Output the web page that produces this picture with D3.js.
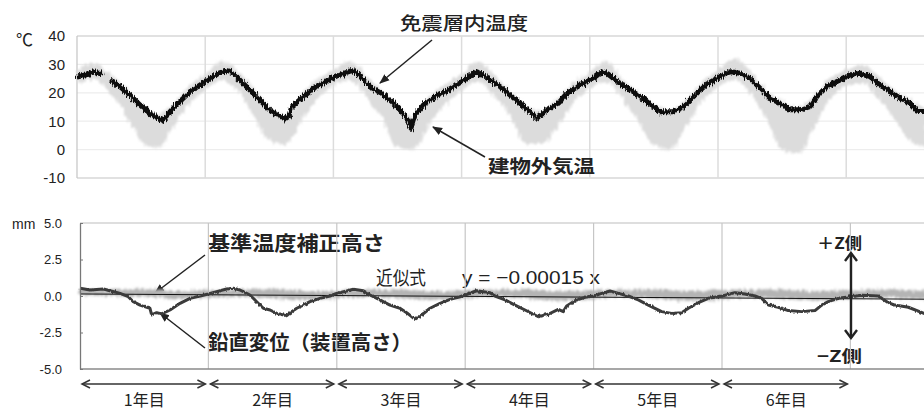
<!DOCTYPE html>
<html>
<head>
<meta charset="utf-8">
<script src="https://cdn.jsdelivr.net/npm/d3@7"></script>
<style>
  body { margin: 0; background: #fff; }
  svg { display: block; }
  .jp { font-family: "Noto Sans CJK JP", "Noto Sans", sans-serif; }
  .num { font-family: "Liberation Sans", Arial, sans-serif; }
</style>
</head>
<body>
<svg id="chart" width="924" height="412"></svg>
<script>
// ---- data (x values are elapsed years) ----
const tempTicks = [40, 30, 20, 10, 0, -10];
const dispTicks = [5.0, 2.5, 0.0, -2.5, -5.0];
const yearLabels = ["1年目", "2年目", "3年目", "4年目", "5年目", "6年目"];

// 免震層内温度 (℃); null marks the missing stretch of records
const innerT = [0.00,0.04,0.076,0.127,0.17,0.205,0.23,0.257,0.335,0.413,0.491,0.569,0.621,0.661,0.69,0.725,0.803,0.881,0.959,
  1.037,1.115,1.180,1.219,1.297,1.401,1.505,1.583,1.622,1.650,1.675,1.753,1.831,1.909,1.987,
  2.065,2.143,2.182,2.246,2.299,2.377,2.455,2.533,2.584,2.605,2.637,2.714,2.793,2.896,
  3.001,3.079,3.118,3.183,3.286,3.378,3.456,3.534,3.586,3.664,3.755,3.820,3.924,
  4.027,4.093,4.132,4.236,4.339,4.444,4.548,4.651,4.729,4.807,4.912,
  5.016,5.094,5.172,5.250,5.328,5.406,5.484,5.562,5.640,5.718,5.770,5.848,5.952,
  6.030,6.108,6.186,6.264,6.342,6.420,6.498,6.550,6.607];
const innerTemp = [25.5,26.0,26.3,27.4,26.8,27.1,null,24.5,22.2,19.2,15.7,12.8,11.4,10.4,11.0,13.3,16.9,20.4,22.7,
  25.1,27.1,27.8,26.9,23.3,18.6,13.9,11.8,10.8,11.6,15.1,18.1,21.0,23.3,25.1,
  26.6,27.8,27.1,23.9,21.6,19.8,16.9,13.3,10.4,7.5,12.2,16.3,18.6,21.0,
  23.9,26.3,27.4,25.7,22.7,19.2,16.3,13.3,11.0,13.9,16.3,19.8,22.7,
  25.1,27.4,26.9,23.3,20.4,16.9,13.3,13.3,15.1,18.6,23.0,
  25.7,27.4,26.9,25.1,21.6,18.1,16.3,14.0,14.0,15.1,18.6,22.2,24.5,
  26.3,26.9,25.7,22.7,20.4,18.1,16.3,13.9,13.3];

// 建物外気温 (℃): daily high / low envelope
const outerT = [0,0.125,0.25,0.375,0.5,0.625,0.75,0.875,
  1,1.125,1.25,1.375,1.5,1.625,1.75,1.875,
  2,2.125,2.25,2.375,2.5,2.625,2.75,2.875,
  3,3.125,3.25,3.375,3.5,3.625,3.75,3.875,
  4,4.125,4.25,4.375,4.5,4.625,4.75,4.875,
  5,5.125,5.25,5.375,5.5,5.625,5.75,5.875,
  6,6.125,6.25,6.375,6.5,6.625];
const outerHigh = [28,30.5,27,22,16,12.5,16,22.5,
  26.5,31,28,21.5,15,12,19.5,24.5,
  28,31,26,21,15.5,11.5,19,23,
  26.5,31,26.5,20.5,15,13.5,18,23.5,
  27,31,25.5,20,16,14,17.5,23.5,
  28,32,28,21,17,15,19,25,
  28,30,26,21,17.5,14.5];
const outerLow = [23,24.5,20.5,13,3,0.5,8,16,
  21,24.5,21,12,3.5,2,10,18,
  22.5,24.5,19,11,1,0,9,16,
  21,24,19,12,2,2,8,17,
  21.5,24,18.5,10,1.5,0,8,17,
  22,24.5,20,11,0,-1.5,8,18,
  22.5,23.5,18,11,3,1];

// 基準温度補正高さ (mm): envelope of the corrected reference height
const refT = [0,0.25,0.5,0.75,1,1.25,1.5,1.75,2,2.25,2.5,2.75,3,3.25,3.5,3.75,4,4.25,4.5,4.75,5,5.25,5.5,5.75,6,6.25,6.5,6.7];
const refHigh = [0.5,0.45,0.5,0.35,0.4,0.45,0.5,0.35,0.35,0.45,0.45,0.35,0.4,0.45,0.45,0.35,0.4,0.45,0.45,0.35,0.4,0.45,0.45,0.35,0.4,0.45,0.4,0.4];
const refLow = [0.05,0.0,-0.05,-0.2,-0.1,-0.05,-0.15,-0.25,-0.15,-0.05,-0.15,-0.25,-0.15,-0.05,-0.2,-0.3,-0.2,-0.05,-0.2,-0.3,-0.2,-0.1,-0.2,-0.3,-0.2,-0.1,-0.2,-0.2];

// 鉛直変位(装置高さ) (mm)
const dispT = [0.000,0.078,0.182,0.234,0.312,0.376,0.415,0.467,0.545,0.558,0.597,0.636,0.701,0.779,0.857,0.935,
  1.000,1.064,1.142,1.194,1.246,1.324,1.376,1.428,1.480,1.532,1.610,1.649,1.688,1.739,1.791,1.869,1.947,
  1.999,2.077,2.129,2.207,2.259,2.336,2.414,2.492,2.544,2.609,2.661,2.726,2.804,2.882,2.960,
  2.998,3.089,3.193,3.232,3.310,3.388,3.466,3.570,3.647,3.725,3.764,3.790,3.855,3.933,
  4.000,4.063,4.128,4.193,4.270,4.348,4.426,4.530,4.608,4.686,4.738,4.816,4.893,
  5.002,5.101,5.179,5.257,5.309,5.361,5.438,5.516,5.621,5.724,5.776,5.828,5.906,
  5.999,6.088,6.217,6.295,6.347,6.451,6.573,6.62];
const disp = [0.53,0.41,0.48,0.36,0.18,-0.05,-0.39,-0.62,-0.84,-1.30,-1.14,-1.23,-0.96,-0.50,-0.16,0.00,
  0.14,0.30,0.48,0.53,0.41,0.07,-0.39,-0.84,-0.96,-1.19,-1.35,-1.07,-0.84,-0.62,-0.39,-0.16,0.00,
  0.18,0.34,0.46,0.36,0.07,-0.27,-0.62,-0.84,-1.14,-1.60,-1.30,-0.84,-0.50,-0.23,-0.05,
  0.07,0.36,0.23,0.00,-0.27,-0.62,-0.96,-1.42,-1.25,-0.91,-1.07,-0.68,-0.32,-0.09,
  0.00,0.18,0.34,0.18,0.00,-0.27,-0.62,-1.07,-1.19,-1.14,-0.84,-0.46,-0.16,
  0.00,0.23,0.14,0.00,-0.16,-0.62,-0.77,-1.00,-1.07,-1.00,-0.62,-0.39,-0.16,
  -0.05,0.05,0.00,-0.46,-0.62,-0.77,-1.19,-1.40];

// 近似式 y = -0.00015 x (x in days)
const trendIntercept = 0.14;
const trendSlope = -0.00015;

// ---- drawing ----
const svg = d3.select("#chart");
const defs = svg.append("defs");

// rough texture for the daily-sampled records
const rough = defs.append("filter").attr("id", "rough")
  .attr("x", "-2%").attr("y", "-30%").attr("width", "104%").attr("height", "160%");
rough.append("feTurbulence").attr("type", "fractalNoise").attr("baseFrequency", "0.9 0.2")
  .attr("numOctaves", 1).attr("seed", 4).attr("result", "n");
rough.append("feDisplacementMap").attr("in", "SourceGraphic").attr("in2", "n")
  .attr("scale", 7).attr("xChannelSelector", "R").attr("yChannelSelector", "G");

const roughSoft = defs.append("filter").attr("id", "roughSoft")
  .attr("x", "-2%").attr("y", "-30%").attr("width", "104%").attr("height", "160%");
roughSoft.append("feTurbulence").attr("type", "fractalNoise").attr("baseFrequency", "0.6 0.1")
  .attr("numOctaves", 1).attr("seed", 9).attr("result", "n");
roughSoft.append("feDisplacementMap").attr("in", "SourceGraphic").attr("in2", "n")
  .attr("scale", 3).attr("xChannelSelector", "R").attr("yChannelSelector", "G");

const haze = defs.append("filter").attr("id", "haze")
  .attr("x", "-2%").attr("y", "-30%").attr("width", "104%").attr("height", "160%");
haze.append("feTurbulence").attr("type", "fractalNoise").attr("baseFrequency", "0.7 0.08")
  .attr("numOctaves", 2).attr("seed", 7).attr("result", "n");
haze.append("feDisplacementMap").attr("in", "SourceGraphic").attr("in2", "n")
  .attr("scale", 9).attr("xChannelSelector", "R").attr("yChannelSelector", "G").attr("result", "d");
haze.append("feGaussianBlur").attr("in", "d").attr("stdDeviation", 1);

const years = d3.range(1, 7);

// ===== upper panel: temperatures =====
const xT = d3.scaleLinear().domain([0, 6.7]).range([77, 77 + 128.2 * 6.7]);
const yT = d3.scaleLinear().domain([-10, 40]).range([178, 36]);
const topW = 930;

const gTop = svg.append("g");
gTop.selectAll("line.hgrid").data(tempTicks).join("line")
  .attr("x1", 77).attr("x2", topW).attr("y1", d => yT(d)).attr("y2", d => yT(d))
  .attr("stroke", d => (d === 40 || d === -10) ? "#c4c4c4" : "#ededed").attr("stroke-width", 1.2);
gTop.selectAll("line.vgrid").data(years).join("line")
  .attr("x1", d => xT(d)).attr("x2", d => xT(d)).attr("y1", 36).attr("y2", 178)
  .attr("stroke", "#dcdcdc").attr("stroke-width", 1.5);
gTop.append("line").attr("x1", 77).attr("x2", 77).attr("y1", 36).attr("y2", 178)
  .attr("stroke", "#c4c4c4").attr("stroke-width", 1.2);

const outerIdx = d3.range(outerT.length);
gTop.append("path")
  .attr("d", d3.area().x(i => xT(outerT[i])).y0(i => yT(outerLow[i])).y1(i => yT(outerHigh[i]))
    .curve(d3.curveMonotoneX)(outerIdx))
  .attr("fill", "#dcdcdc").attr("filter", "url(#haze)");

const innerIdx = d3.range(innerT.length);
gTop.append("path")
  .attr("d", d3.line().defined(i => innerTemp[i] !== null)
    .x(i => xT(innerT[i])).y(i => yT(innerTemp[i])).curve(d3.curveLinear)(innerIdx))
  .attr("fill", "none").attr("stroke", "#111").attr("stroke-width", 5)
  .attr("stroke-linejoin", "round").attr("filter", "url(#rough)");

const axT = gTop.append("g").attr("transform", "translate(77,0)")
  .call(d3.axisLeft(yT).tickValues(tempTicks).tickSize(0).tickPadding(12).tickFormat(d => String(d)));
axT.select(".domain").remove();
axT.selectAll("text").attr("class", "num").style("font-size", "15px").attr("fill", "#222");

gTop.append("text").attr("class", "jp").attr("x", 16).attr("y", 46)
  .style("font-size", "17px").attr("fill", "#222").text("℃");

// annotations
const ann = svg.append("g");
defs.append("marker").attr("id", "head").attr("viewBox", "0 0 10 10").attr("refX", 9).attr("refY", 5)
  .attr("markerWidth", 10).attr("markerHeight", 10).attr("markerUnits", "userSpaceOnUse").attr("orient", "auto")
  .append("path").attr("d", "M0,1 L10,5 L0,9 Z").attr("fill", "#222");

ann.append("text").attr("class", "jp").attr("x", 400).attr("y", 30)
  .attr("textLength", 128).attr("lengthAdjust", "spacingAndGlyphs")
  .style("font-size", "18px").style("font-weight", 500).attr("fill", "#222").text("免震層内温度");
ann.append("line").attr("x1", 432).attr("y1", 40).attr("x2", 380).attr("y2", 83)
  .attr("stroke", "#222").attr("stroke-width", 1.5).attr("marker-end", "url(#head)");
ann.append("text").attr("class", "jp").attr("x", 488).attr("y", 173)
  .attr("textLength", 107).attr("lengthAdjust", "spacingAndGlyphs")
  .style("font-size", "18px").style("font-weight", 700).attr("fill", "#222").text("建物外気温");
ann.append("line").attr("x1", 485).attr("y1", 157).attr("x2", 433).attr("y2", 127)
  .attr("stroke", "#222").attr("stroke-width", 1.5).attr("marker-end", "url(#head)");

// ===== lower panel: displacement =====
const xB = d3.scaleLinear().domain([0, 6.7]).range([80, 80 + 128.4 * 6.7]);
const yB = d3.scaleLinear().domain([-5, 5]).range([369, 223]);

const gBot = svg.append("g");
gBot.append("line").attr("x1", 80).attr("x2", topW).attr("y1", yB(5)).attr("y2", yB(5))
  .attr("stroke", "#bdbdbd").attr("stroke-width", 1.2);
gBot.selectAll("line.vgrid").data(years).join("line")
  .attr("x1", d => xB(d)).attr("x2", d => xB(d)).attr("y1", yB(5)).attr("y2", yB(-5))
  .attr("stroke", "#c6c6c6").attr("stroke-width", 1.2);
gBot.append("line").attr("x1", 80).attr("x2", topW).attr("y1", yB(-5)).attr("y2", yB(-5))
  .attr("stroke", "#8a8a8a").attr("stroke-width", 1.3);

const refIdx = d3.range(refT.length);
gBot.append("path")
  .attr("d", d3.area().x(i => xB(refT[i])).y0(i => yB(refLow[i])).y1(i => yB(refHigh[i]))
    .curve(d3.curveMonotoneX)(refIdx))
  .attr("fill", "#b4b4b4").attr("filter", "url(#haze)");

gBot.append("line")
  .attr("x1", xB(0)).attr("x2", xB(6.7))
  .attr("y1", yB(trendIntercept)).attr("y2", yB(trendIntercept + trendSlope * 6.7 * 365))
  .attr("stroke", "#111").attr("stroke-width", 1);

const dispIdx = d3.range(dispT.length);
gBot.append("path")
  .attr("d", d3.line().x(i => xB(dispT[i])).y(i => yB(disp[i])).curve(d3.curveLinear)(dispIdx))
  .attr("fill", "none").attr("stroke", "#3a3a3a").attr("stroke-width", 3)
  .attr("stroke-linejoin", "round").attr("filter", "url(#roughSoft)");

const axB = gBot.append("g").attr("transform", "translate(80,0)")
  .call(d3.axisLeft(yB).tickValues(dispTicks).tickSizeInner(-3).tickSizeOuter(0).tickPadding(18)
    .tickFormat(d => d.toFixed(1)));
axB.select(".domain").attr("stroke", "#777").attr("stroke-width", 1.3);
axB.selectAll(".tick line").attr("stroke", "#777");
axB.selectAll("text").attr("class", "num").style("font-size", "13px").attr("fill", "#222");

gBot.append("text").attr("class", "num").attr("x", 12).attr("y", 229)
  .style("font-size", "14px").attr("fill", "#222").text("mm");

// year spans
const spans = svg.append("g").attr("stroke", "#333").attr("stroke-width", 1.5).attr("fill", "none");
const yArrow = 384;
years.forEach(n => {
  const a = xB(n - 1) + 2, b = xB(n) - 3;
  spans.append("line").attr("x1", a).attr("x2", b).attr("y1", yArrow).attr("y2", yArrow);
  spans.append("path").attr("d", `M${a + 8},${yArrow - 4}L${a},${yArrow}L${a + 8},${yArrow + 4}`);
  spans.append("path").attr("d", `M${b - 8},${yArrow - 4}L${b},${yArrow}L${b - 8},${yArrow + 4}`);
});
svg.append("g").selectAll("text").data(yearLabels).join("text")
  .attr("class", "jp").attr("x", (d, i) => xB(i + 0.5)).attr("y", 406)
  .attr("text-anchor", "middle").style("font-size", "16px").attr("fill", "#222").text(d => d);

// labels and arrows in the lower panel
ann.append("text").attr("class", "jp").attr("x", 208).attr("y", 251)
  .attr("textLength", 177).attr("lengthAdjust", "spacingAndGlyphs")
  .style("font-size", "20px").style("font-weight", 700).attr("fill", "#222").text("基準温度補正高さ");
ann.append("line").attr("x1", 205).attr("y1", 255).attr("x2", 155).attr("y2", 293)
  .attr("stroke", "#222").attr("stroke-width", 1.5).attr("marker-end", "url(#head)");
ann.append("text").attr("class", "jp").attr("x", 208).attr("y", 350)
  .attr("textLength", 204).attr("lengthAdjust", "spacingAndGlyphs")
  .style("font-size", "20px").style("font-weight", 700).attr("fill", "#222").text("鉛直変位（装置高さ）");
ann.append("line").attr("x1", 205).attr("y1", 348).attr("x2", 160).attr("y2", 313)
  .attr("stroke", "#222").attr("stroke-width", 1.5).attr("marker-end", "url(#head)");

ann.append("text").attr("class", "jp").attr("x", 376).attr("y", 285)
  .attr("textLength", 50).attr("lengthAdjust", "spacingAndGlyphs")
  .style("font-size", "19px").attr("fill", "#222").text("近似式");
ann.append("text").attr("class", "num").attr("x", 462).attr("y", 284)
  .attr("textLength", 138).attr("lengthAdjust", "spacingAndGlyphs")
  .style("font-size", "19px").attr("fill", "#222").text("y = −0.00015 x");

// ±Z direction
const zx = 851;
const zg = svg.append("g").attr("stroke", "#222").attr("stroke-width", 2.4).attr("fill", "none");
zg.append("line").attr("x1", zx).attr("x2", zx).attr("y1", 253).attr("y2", 338);
zg.append("path").attr("d", `M${zx - 6},${261}L${zx},${253}L${zx + 6},${261}`);
zg.append("path").attr("d", `M${zx - 6},${330}L${zx},${338}L${zx + 6},${330}`);
ann.append("text").attr("class", "jp").attr("x", 817).attr("y", 249)
  .attr("textLength", 45).attr("lengthAdjust", "spacingAndGlyphs")
  .style("font-size", "16px").style("font-weight", 700).attr("fill", "#222").text("＋Z側");
ann.append("text").attr("class", "jp").attr("x", 817).attr("y", 362)
  .attr("textLength", 45).attr("lengthAdjust", "spacingAndGlyphs")
  .style("font-size", "16px").style("font-weight", 700).attr("fill", "#222").text("−Z側");
</script>
</body>
</html>
